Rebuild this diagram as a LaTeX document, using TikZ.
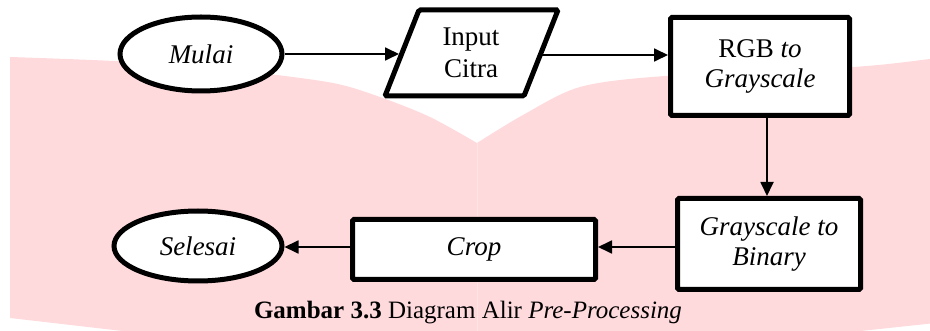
\documentclass[tikz,border=0pt]{standalone}
\usepackage{fontspec}
\setmainfont{Liberation Serif}
\usetikzlibrary{shapes.geometric,arrows.meta}
\definecolor{pagepink}{RGB}{255,218,221}
\definecolor{foldpink}{RGB}{255,227,229}
\begin{document}
\begin{tikzpicture}[x=1pt,y=-1pt,
  txt/.style={font=\fontsize{27}{30}\selectfont},
  term/.style={ellipse, draw, line width=5pt, fill=white, inner sep=0pt, txt},
  proc/.style={rectangle, draw, line width=5pt, fill=white, inner sep=0pt, rounded corners=1.5pt, align=center, txt},
  flow/.style={line width=1.8pt, -{Triangle[length=14pt,width=13pt]}}
]
\useasboundingbox (0,0) rectangle (930,331);
\clip (0,0) rectangle (930,331);
% background page shape
\fill[pagepink] plot[smooth] coordinates {(10,57) (133,62) (250,72) (333,83) (380,97) (430,117) (477,143)}
  -- plot[smooth] coordinates {(477,143) (523,115) (580,87) (665,76) (853,67) (930,59) (945,57)}
  -- (945,322) -- (477,372) -- (10,318) -- cycle;
\draw[foldpink, line width=0.8pt] (477,143) -- (477,372);
% nodes
\node[term, minimum width=162pt, minimum height=74pt] (mulai) at (201,54) {\itshape Mulai};
\draw[line width=5pt, fill=white, rounded corners=1.5pt] (385,96) -- (419,10) -- (558,10) -- (524,96) -- cycle;
\node[txt, align=center, font=\fontsize{27}{32}\selectfont] (input) at (471,53) {Input\\Citra};
\coordinate (inL) at (399,54);
\coordinate (inR) at (540,55);
\node[proc, minimum width=179pt, minimum height=98pt] (rgb) at (760,66.5) {RGB \textit{to}\\\textit{Grayscale}};
\node[proc, minimum width=183pt, minimum height=91pt] (gtb) at (769,244) {\textit{Grayscale to}\\\textit{Binary}};
\node[proc, minimum width=243pt, minimum height=60pt] (crop) at (474,249.5) {\textit{Crop}};
\node[term, minimum width=168pt, minimum height=70pt] (selesai) at (198,246) {\itshape Selesai};
% connectors
\draw[flow] (mulai.east) -- (inL);
\draw[flow] (inR) -- (inR -| rgb.west);
\draw[flow] ([xshift=-2pt]rgb.south -| gtb.north) -- ([xshift=-2pt]gtb.north);
\draw[flow] ([yshift=-3pt]gtb.west) -- ([yshift=-3pt]gtb.west -| crop.east);
\draw[flow] ([yshift=2.5pt]crop.west) -- ([yshift=2.5pt]crop.west -| selesai.east);
% caption
\node[anchor=base, font=\fontsize{25}{30}\selectfont] (cap) at (468,319) {\textbf{Gambar 3.3} Diagram Alir \textit{Pre-Processing}};
\end{tikzpicture}
\end{document}
